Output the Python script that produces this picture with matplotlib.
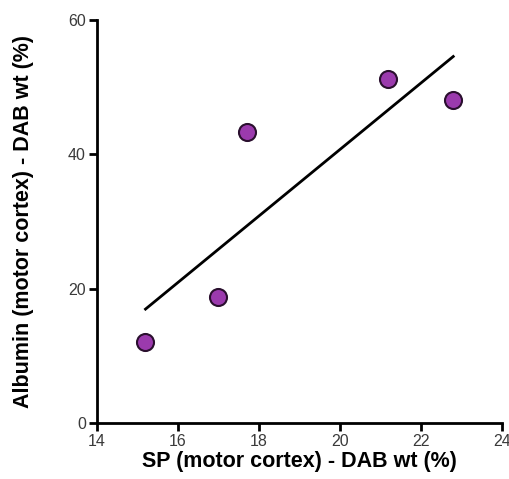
import numpy as np
import matplotlib.pyplot as plt

plt.rcParams['font.family'] = ['Liberation Sans', 'DejaVu Sans']

sp = [15.2, 17.0, 17.7, 21.2, 22.8]
albumin = [12.1, 18.7, 43.3, 51.2, 48.1]

xticks = [14, 16, 18, 20, 22, 24]
yticks = [0, 20, 40, 60]

fig = plt.figure(figsize=(5.1, 4.79), dpi=100)
ax = fig.add_axes([0.190, 0.117, 0.794, 0.841])

# linear fit across the data range
slope, icpt = np.polyfit(sp, albumin, 1)
xl = np.array([min(sp), max(sp)])
ax.plot(xl, slope * xl + icpt, color='black', lw=2, zorder=2)

ax.scatter(sp, albumin, s=150, color='#9b3aad', edgecolor='#2a0f2e', linewidth=1.5, zorder=3)

ax.set_xlim(14, 24)
ax.set_ylim(0, 60)
ax.set_xticks(xticks)
ax.set_yticks(yticks)

for s in ['top', 'right']:
    ax.spines[s].set_visible(False)
for s in ['left', 'bottom']:
    ax.spines[s].set_linewidth(2)

ax.tick_params(direction='out', length=6, width=2, labelsize=11.5, colors='black', labelcolor='#3a3a3a', pad=2)

ax.set_xlabel('SP (motor cortex) - DAB wt (%)', fontsize=15.5, fontweight='bold')
ax.set_ylabel('Albumin (motor cortex) - DAB wt (%)', fontsize=15.5, fontweight='bold')
ax.xaxis.set_label_coords(0.5, -0.07)
ax.yaxis.set_label_coords(-0.156, 0.5)

fig.savefig('out.png', dpi=100)
